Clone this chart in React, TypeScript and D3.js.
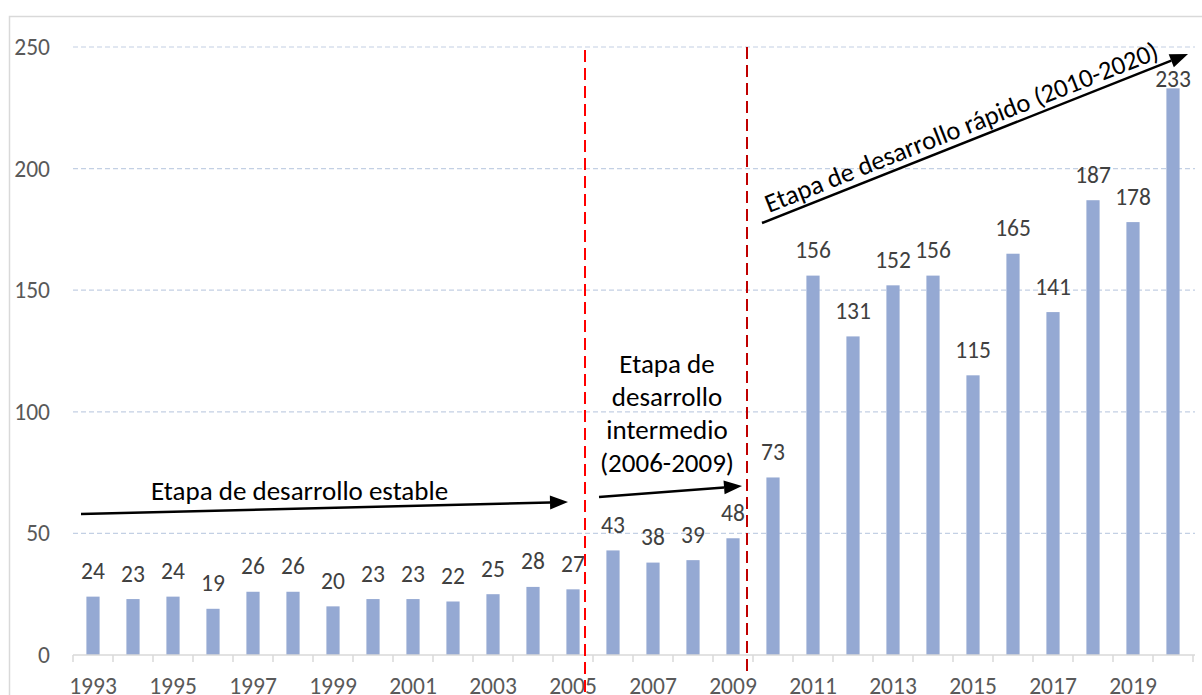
import * as d3 from "d3";

const years = d3.range(1993, 2021).map(String);
const values = [
  24, 23, 24, 19, 26, 26, 20, 23, 23, 22, 25, 28, 27, 43, 38, 39, 48, 73, 156,
  131, 152, 156, 115, 165, 141, 187, 178, 233,
];
const yTicks = [0, 50, 100, 150, 200, 250];
const tickYears = years.filter((d) => +d % 2 === 1);
const midText = ["Etapa de", "desarrollo", "intermedio", "(2006-2009)"];

const W = 1202,
  H = 695;
const FONT = "Carlito, Calibri, Lato, sans-serif";
const NUM = 23.5;

function Arrow({ x1, y1, x2, y2, w = 2.5, head = 18, hw = 7 }) {
  const a = Math.atan2(y2 - y1, x2 - x1);
  const bx = x2 - head * Math.cos(a),
    by = y2 - head * Math.sin(a);
  const px = -Math.sin(a) * hw,
    py = Math.cos(a) * hw;
  return (
    <g>
      <line x1={x1} y1={y1} x2={bx} y2={by} stroke="#000" strokeWidth={w} />
      <path
        d={`M${x2},${y2}L${bx + px},${by + py}L${bx - px},${by - py}Z`}
        fill="#000"
      />
    </g>
  );
}

export default function App() {
  const x = d3
    .scaleBand()
    .domain(years)
    .range([73, 1193])
    .paddingInner(0.67)
    .paddingOuter(0.335);
  const y = d3.scaleLinear().domain([0, 250]).range([655, 47]);
  const step = x.step();
  const cx = (d) => x(d) + x.bandwidth() / 2;
  const bounds = d3.range(years.length + 1).map((i) => x.range()[0] + i * step);

  const red1 = cx("2005") + step * 0.3;
  const red2 = cx("2009") + step * 0.35;

  return (
    <svg
      width={W}
      height={H}
      style={{ position: "absolute", left: 0, top: 0, background: "#fff" }}
      fontFamily={FONT}
    >
      <rect x={9.5} y={16.5} width={1200} height={700} fill="none" stroke="#d9d9d9" strokeWidth={1.5} />

      {/* gridlines */}
      {yTicks.slice(1).map((t) => (
        <line
          key={t}
          x1={73}
          x2={1195}
          y1={y(t)}
          y2={y(t)}
          stroke="#c3d0e4"
          strokeWidth={1.2}
          strokeDasharray="5,3"
        />
      ))}

      {/* y labels */}
      {yTicks.map((t) => (
        <text
          key={t}
          x={50}
          y={y(t)}
          dy="0.34em"
          textAnchor="end"
          fontSize={NUM}
          fill="#595959"
        >
          {t}
        </text>
      ))}

      {/* bars */}
      {values.map((v, i) => (
        <rect
          key={years[i]}
          x={x(years[i])}
          y={y(v)}
          width={x.bandwidth()}
          height={y(0) - y(v)}
          fill="#95a9d3"
        />
      ))}

      {/* data labels */}
      {values.map((v, i) => (
        <text
          key={years[i]}
          x={cx(years[i])}
          y={Math.max(y(v) - 17.5, 87)}
          textAnchor="middle"
          fontSize={NUM}
          fill="#404040"
        >
          {v}
        </text>
      ))}

      {/* x axis */}
      <line x1={73} x2={1195} y1={655} y2={655} stroke="#d9d9d9" strokeWidth={1.5} />
      {bounds.map((b, i) => (
        <line key={i} x1={b} x2={b} y1={655} y2={662} stroke="#d9d9d9" strokeWidth={1.5} />
      ))}
      {tickYears.map((d) => (
        <text
          key={d}
          x={cx(d)}
          y={694}
          textAnchor="middle"
          fontSize={NUM}
          fill="#595959"
        >
          {d}
        </text>
      ))}

      {/* stage separators */}
      <line x1={red1} x2={red1} y1={50} y2={692} stroke="#ff0000" strokeWidth={2} strokeDasharray="12,6" />
      <line x1={red2} x2={red2} y1={47} y2={673} stroke="#c00000" strokeWidth={2} strokeDasharray="12,6" />

      {/* annotations */}
      <text x={151} y={500} fontSize={27} fill="#000">
        Etapa de desarrollo estable
      </text>
      <Arrow x1={81} y1={514} x2={568} y2={502} />

      {midText.map((t, i) => (
        <text key={t} x={667} y={373 + i * 33} textAnchor="middle" fontSize={27} fill="#000">
          {t}
        </text>
      ))}
      <Arrow x1={599} y1={497} x2={742} y2={486} />

      <Arrow x1={762} y1={223} x2={1188} y2={54} />
      <text
        transform={`translate(769,213) rotate(-21.6)`}
        fontSize={26.5}
        fill="#000"
      >
        Etapa de desarrollo rápido (2010-2020)
      </text>
    </svg>
  );
}
